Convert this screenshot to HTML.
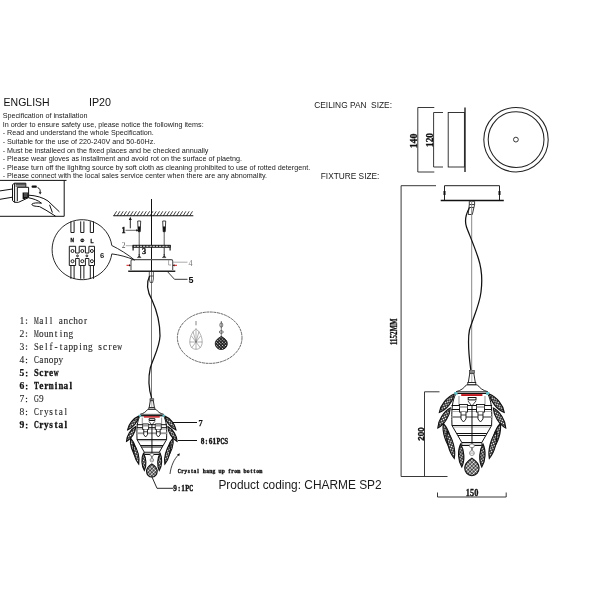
<!DOCTYPE html>
<html><head><meta charset="utf-8"><style>
html,body{margin:0;padding:0;background:#fff;}
svg{display:block;will-change:transform;}
.nss *{vector-effect:non-scaling-stroke;}
</style></head><body>
<svg width="600" height="600" viewBox="0 0 600 600">
<rect width="600" height="600" fill="#fff"/>
<text x="3.6" y="106" font-family='"Liberation Sans", sans-serif' font-size="10.5" fill="#111" font-weight="normal" >ENGLISH</text>
<text x="89" y="106" font-family='"Liberation Sans", sans-serif' font-size="10.7" fill="#111" font-weight="normal" >IP20</text>
<text x="2.7" y="118.1" font-family='"Liberation Sans", sans-serif' font-size="7.2" fill="#1a1a1a" font-weight="normal" >Specification of installation</text>
<text x="2.7" y="126.8" font-family='"Liberation Sans", sans-serif' font-size="7.2" fill="#1a1a1a" font-weight="normal" >In order to ensure safety use, please notice the following items:</text>
<text x="2.7" y="135.4" font-family='"Liberation Sans", sans-serif' font-size="7.2" fill="#1a1a1a" font-weight="normal" >- Read and understand the whole Specification.</text>
<text x="2.7" y="143.8" font-family='"Liberation Sans", sans-serif' font-size="7.2" fill="#1a1a1a" font-weight="normal" >- Suitable for the use of 220-240V and 50-60Hz.</text>
<text x="2.7" y="152.7" font-family='"Liberation Sans", sans-serif' font-size="7.2" fill="#1a1a1a" font-weight="normal" >- Must be installeed on the fixed places and be checked annually</text>
<text x="2.7" y="161.3" font-family='"Liberation Sans", sans-serif' font-size="7.2" fill="#1a1a1a" font-weight="normal" >- Please wear gloves as installment and avoid rot on the surface of plaetng.</text>
<text x="2.7" y="169.7" font-family='"Liberation Sans", sans-serif' font-size="7.2" fill="#1a1a1a" font-weight="normal" >- Please turn off the lighitng source by soft cloth as cleaning prohibited to use of rotted detergent.</text>
<text x="2.7" y="178.4" font-family='"Liberation Sans", sans-serif' font-size="7.2" fill="#1a1a1a" font-weight="normal" >- Please connect with the local sales service center when there are any abnomality.</text>
<text x="314.25" y="107.5" font-family='"Liberation Sans", sans-serif' font-size="8.35" fill="#1a1a1a" font-weight="normal" >CEILING PAN&#160;&#160;SIZE:</text>
<text x="320.8" y="178.8" font-family='"Liberation Sans", sans-serif' font-size="8.3" fill="#1a1a1a" font-weight="normal" >FIXTURE SIZE:</text>
<text x="218.4" y="488.6" font-family='"Liberation Sans", sans-serif' font-size="11.9" fill="#1a1a1a" font-weight="normal" >Product coding: CHARME SP2</text>
<g fill="none" stroke="#111" stroke-width="1"><path d="M0 180.4 H66.5 M64.2 180.4 V216.3 H0"/><path d="M0 190.9 L12.5 189 M0 199.3 L12.5 197.2"/><path d="M12.5 184.6 L14.6 183.2 H25.8 V187.3 H28.6 V197.6 L18.5 202.3 H14.6 L12.5 200.6 Z" fill="#fff"/><path d="M14.6 183.2 V202.3 M17.3 187.3 H25.8 M17.3 187.3 V201"/><path d="M28.6 195.2 C36 195.5 43 197.5 48 201 L59.4 211.8"/><path d="M28.6 197.8 C33 198.6 38 200.2 41.5 203.2 C37 202.6 33.2 202.8 31.9 204.2 C31.6 205.8 35 206.3 39.5 206.6 L46 210.2 L55.6 216.2"/><path d="M49.6 204.8 L52.4 212.6"/><path d="M37.6 187.6 C39.6 188.2 40.6 190 40.1 192.6"/></g>
<g fill="#111"><rect x="31.6" y="185.4" width="5.2" height="2.3" rx="0.8"/><path d="M38.7 192.2 L41.6 192.2 L40.2 194.4 Z"/><rect x="15.6" y="183.6" width="9.8" height="1.1"/><rect x="15.6" y="185.5" width="9.8" height="1"/><path d="M22.6 192.4 H28.6 V197.4 L24.5 199 H22.6 Z"/></g>
<path d="M24 194 H27.6 M24 196 H27.4" stroke="#fff" stroke-width="0.5"/>
<g stroke="#111" fill="none"><path d="M113.3 215.8 H193.3" stroke-width="1.1"/><path d="M113.8 215.8 L116.6 211.3 M117.1 215.8 L119.9 211.3 M120.4 215.8 L123.2 211.3 M123.7 215.8 L126.5 211.3 M127.0 215.8 L129.8 211.3 M130.3 215.8 L133.1 211.3 M133.6 215.8 L136.4 211.3 M136.9 215.8 L139.7 211.3 M140.2 215.8 L143.0 211.3 M143.5 215.8 L146.3 211.3 M146.8 215.8 L149.6 211.3 M150.1 215.8 L152.9 211.3 M153.4 215.8 L156.2 211.3 M156.7 215.8 L159.5 211.3 M160.0 215.8 L162.8 211.3 M163.3 215.8 L166.1 211.3 M166.6 215.8 L169.4 211.3 M169.9 215.8 L172.7 211.3 M173.2 215.8 L176.0 211.3 M176.5 215.8 L179.3 211.3 M179.8 215.8 L182.6 211.3 M183.1 215.8 L185.9 211.3 M186.4 215.8 L189.2 211.3 M189.7 215.8 L192.5 211.3 " stroke-width="0.8"/></g>
<path d="M151.5 199 V272" stroke="#111" stroke-width="1"/><path d="M151.5 272 V399" stroke="#777" stroke-width="1"/>
<path d="M130.3 228.3 V219" stroke="#111" stroke-width="0.9"/><path d="M128.8 220 L130.3 216.8 L131.8 220 Z" fill="#111"/>
<path d="M137.7 221 H140.7 L140.2 231.7 H138.2 Z" fill="#fff" stroke="#111" stroke-width="0.8"/>
<path d="M137.89999999999998 226.5 H140.5 L140.2 231.7 H138.2 Z" fill="#111"/>
<path d="M139.2 231.7 V245" stroke="#333" stroke-width="0.8"/>
<path d="M162.7 221 H165.7 L165.2 231.7 H163.2 Z" fill="#fff" stroke="#111" stroke-width="0.8"/>
<path d="M162.89999999999998 226.5 H165.5 L165.2 231.7 H163.2 Z" fill="#111"/>
<path d="M164.2 231.7 V245" stroke="#333" stroke-width="0.8"/>
<text x="121.6" y="233.2" font-family='"Liberation Serif", serif' font-size="8.2" fill="#111" font-weight="bold" stroke="#111" stroke-width="0.35">1</text>
<path d="M125.5 230.3 H137.5" stroke="#222" stroke-width="0.7"/><path d="M136.2 229.2 L138.6 230.3 L136.2 231.4Z" fill="#111"/>
<rect x="132.6" y="244.8" width="38" height="3" fill="#1a1a1a"/>
<path d="M133.5 246.3 H170" stroke="#fff" stroke-width="0.9" stroke-dasharray="2.2 1"/>
<path d="M133.1 245 V250.4 M170.1 245 V250.4" stroke="#1a1a1a" stroke-width="1.2" fill="none"/>
<text x="121.8" y="247.8" font-family='"Liberation Serif", serif' font-size="7.5" fill="#555" font-weight="normal" >2</text>
<path d="M125.8 245.7 H132" stroke="#888" stroke-width="0.7"/>
<path d="M139.2 247.5 V255" stroke="#222" stroke-width="0.9"/><path d="M137.39999999999998 257.6 Q139.2 256.5 139.2 254 Q139.2 256.5 141.0 257.6 Z" fill="#222" stroke="#222" stroke-width="0.5"/>
<path d="M164.2 247.5 V255" stroke="#222" stroke-width="0.9"/><path d="M162.39999999999998 257.6 Q164.2 256.5 164.2 254 Q164.2 256.5 166.0 257.6 Z" fill="#222" stroke="#222" stroke-width="0.5"/>
<text x="141.9" y="253.9" font-family='"Liberation Serif", serif' font-size="8.4" fill="#111" font-weight="bold" stroke="#111" stroke-width="0.3">3</text>
<g stroke="#222" fill="none"><path d="M131 270.1 V261 Q131 259.6 132.5 259.6 H171.2 Q172.7 259.6 172.7 261 V270.1" stroke-width="1.1" stroke="#555"/><path d="M128.2 271.3 H175.3" stroke-width="1.6" stroke="#222"/></g>
<path d="M126.5 265.3 H130" stroke="#c00" stroke-width="0.9"/><path d="M129 264.2 L131 265.3 L129 266.4Z" fill="#311"/>
<path d="M177 265.3 H173.5" stroke="#c00" stroke-width="0.9"/><path d="M174.5 264.2 L172.5 265.3 L174.5 266.4Z" fill="#311"/>
<path d="M168.6 259.8 V265 M168.6 265 H171  M172.7 262.2 H187.5" stroke="#888" stroke-width="0.7" fill="none"/>
<text x="188.5" y="266" font-family='"Liberation Serif", serif' font-size="8" fill="#777" font-weight="normal" >4</text>
<path d="M167.2 271.3 L174.5 279.3 H187.5" stroke="#222" stroke-width="0.9" fill="none"/>
<text x="188.6" y="282.6" font-family='"Liberation Sans", sans-serif' font-size="9" fill="#111" font-weight="bold" >5</text>
<g stroke="#333" fill="none" stroke-width="0.8"><path d="M149.3 272 V279 M153.4 272 V279 M149.3 279 L150.2 282.5 H152.6 L153.4 279"/><path d="M149.4 276 H153.4"/></g>
<path d="M149.6 276 C146 283 147.5 292 152 300 C157 311 160 322 160 336 C159.5 348 153 358 150.3 368 C148.3 377 148.8 389 151.6 398" stroke="#111" stroke-width="1.25" fill="none"/>
<g stroke="#111" fill="none" stroke-width="0.9"><path d="M111.8 245.5 A30 30 0 1 0 111.8 253.9 C119 254.8 127 256.8 134.5 260 C128 254.5 119 249 111.8 245.5 Z" fill="#fff"/></g>
<g stroke="#111" fill="#fff" stroke-width="0.95"><path d="M70.9 221.4 V232.5 H74.1 V221.4" fill="none"/><path d="M70.9 265.5 V278.8 M74.1 265.5 V278.8" fill="none"/><path d="M80.7 221.4 V232.5 H83.89999999999999 V221.4" fill="none"/><path d="M80.7 265.5 V278.8 M83.89999999999999 265.5 V278.8" fill="none"/><path d="M90.30000000000001 221.4 V232.5 H93.5 V221.4" fill="none"/><path d="M90.30000000000001 265.5 V278.8 M93.5 265.5 V278.8" fill="none"/><path d="M69.3 246.3 H75.6 V253 H79.2 V246.3 H85.4 V253 H88.9 V246.3 H94.5 V265.5 H88.9 V258.5 H85.4 V265.5 H79.2 V258.5 H75.6 V265.5 H69.3 Z"/><circle cx="72.5" cy="251" r="1.5"/><circle cx="72.5" cy="261.2" r="1.5"/><circle cx="82.3" cy="251" r="1.5"/><circle cx="82.3" cy="261.2" r="1.5"/><circle cx="91.9" cy="251" r="1.5"/><circle cx="91.9" cy="261.2" r="1.5"/><circle cx="77.5" cy="255.9" r="0.9"/><circle cx="86.9" cy="255.9" r="0.9"/></g>
<text x="70.4" y="242.4" font-family='"Liberation Sans", sans-serif' font-size="4.8" fill="#111" font-weight="bold" stroke="#111" stroke-width="0.3">N</text>
<circle cx="82.3" cy="240.3" r="1.9" fill="#111"/><path d="M80.6 240.3 H84" stroke="#fff" stroke-width="0.5"/>
<text x="90.5" y="242.5" font-family='"Liberation Sans", sans-serif' font-size="5" fill="#111" font-weight="bold" stroke="#111" stroke-width="0.3">L</text>
<text x="99.9" y="257.9" font-family='"Liberation Sans", sans-serif' font-size="7.6" fill="#222" font-weight="bold" >6</text>
<text transform="translate(19.45 324) scale(0.990 1)" font-family="Liberation Serif" font-size="9.7" fill="#262626" font-weight="normal" stroke="#262626" stroke-width="0.10">1</text>
<rect x="25.9" y="319.4" width="1.2" height="1.2" fill="#262626"/><rect x="25.9" y="322.6" width="1.2" height="1.2" fill="#262626"/>
<g transform="translate(34.0 0) scale(0.96 1) translate(-34.0 0)"><text x="39.50 45.41 50.52 59.92 64.75 70.13 74.96 80.06 85.98" y="324" font-family="Liberation Serif" font-size="9.7" fill="#262626" font-weight="normal" stroke="#262626" stroke-width="0.10">allanchor</text></g>
<text transform="translate(34.05 324) scale(0.557 1)" font-family="Liberation Serif" font-size="9.7" fill="#262626" font-weight="normal" stroke="#262626" stroke-width="0.18">M</text>
<text transform="translate(19.45 337) scale(0.990 1)" font-family="Liberation Serif" font-size="9.7" fill="#262626" font-weight="normal" stroke="#262626" stroke-width="0.10">2</text>
<rect x="25.9" y="332.4" width="1.2" height="1.2" fill="#262626"/><rect x="25.9" y="335.6" width="1.2" height="1.2" fill="#262626"/>
<g transform="translate(34.0 0) scale(0.96 1) translate(-34.0 0)"><text x="39.23 44.34 49.44 55.62 60.73 64.75 69.86" y="337" font-family="Liberation Serif" font-size="9.7" fill="#262626" font-weight="normal" stroke="#262626" stroke-width="0.10">ounting</text></g>
<text transform="translate(34.05 337) scale(0.557 1)" font-family="Liberation Serif" font-size="9.7" fill="#262626" font-weight="normal" stroke="#262626" stroke-width="0.18">M</text>
<text transform="translate(19.45 350) scale(0.990 1)" font-family="Liberation Serif" font-size="9.7" fill="#262626" font-weight="normal" stroke="#262626" stroke-width="0.10">3</text>
<rect x="25.9" y="345.4" width="1.2" height="1.2" fill="#262626"/><rect x="25.9" y="348.6" width="1.2" height="1.2" fill="#262626"/>
<g transform="translate(34.0 0) scale(0.96 1) translate(-34.0 0)"><text x="39.50 45.41 50.25 55.35 60.73 65.02 69.86 74.96 81.14 85.17 90.27 101.02 105.86 111.50 116.07" y="350" font-family="Liberation Serif" font-size="9.7" fill="#262626" font-weight="normal" stroke="#262626" stroke-width="0.10">elf-tappingscre</text></g>
<text transform="translate(34.05 350) scale(0.890 1)" font-family="Liberation Serif" font-size="9.7" fill="#262626" font-weight="normal" stroke="#262626" stroke-width="0.11">S</text>
<text transform="translate(117.35 350) scale(0.686 1)" font-family="Liberation Serif" font-size="9.7" fill="#262626" font-weight="normal" stroke="#262626" stroke-width="0.15">w</text>
<text transform="translate(19.45 363.4) scale(0.990 1)" font-family="Liberation Serif" font-size="9.7" fill="#262626" font-weight="normal" stroke="#262626" stroke-width="0.10">4</text>
<rect x="25.9" y="358.79999999999995" width="1.2" height="1.2" fill="#262626"/><rect x="25.9" y="362.0" width="1.2" height="1.2" fill="#262626"/>
<g transform="translate(34.0 0) scale(0.96 1) translate(-34.0 0)"><text x="39.50 44.34 49.44 54.54 59.65" y="363.4" font-family="Liberation Serif" font-size="9.7" fill="#262626" font-weight="normal" stroke="#262626" stroke-width="0.10">anopy</text></g>
<text transform="translate(34.05 363.4) scale(0.742 1)" font-family="Liberation Serif" font-size="9.7" fill="#262626" font-weight="normal" stroke="#262626" stroke-width="0.13">C</text>
<text transform="translate(19.45 376.4) scale(0.990 1)" font-family="Liberation Serif" font-size="9.7" fill="#111" font-weight="bold" stroke="#111" stroke-width="0.25">5</text>
<rect x="25.9" y="371.79999999999995" width="1.5" height="1.5" fill="#111"/><rect x="25.9" y="375.0" width="1.5" height="1.5" fill="#111"/>
<g transform="translate(34.0 0) scale(0.96 1) translate(-34.0 0)"><text x="39.50 44.61 49.71" y="376.4" font-family="Liberation Serif" font-size="9.7" fill="#111" font-weight="bold" stroke="#111" stroke-width="0.26">cre</text></g>
<text transform="translate(34.05 376.4) scale(0.890 1)" font-family="Liberation Serif" font-size="9.7" fill="#111" font-weight="bold" stroke="#111" stroke-width="0.28">S</text>
<text transform="translate(53.65 376.4) scale(0.686 1)" font-family="Liberation Serif" font-size="9.7" fill="#111" font-weight="bold" stroke="#111" stroke-width="0.36">w</text>
<text transform="translate(19.45 389.4) scale(0.990 1)" font-family="Liberation Serif" font-size="9.7" fill="#111" font-weight="bold" stroke="#111" stroke-width="0.25">6</text>
<rect x="25.9" y="384.79999999999995" width="1.5" height="1.5" fill="#111"/><rect x="25.9" y="388.0" width="1.5" height="1.5" fill="#111"/>
<g transform="translate(34.0 0) scale(0.96 1) translate(-34.0 0)"><text x="39.50 44.61 55.62 64.75 70.93" y="389.4" font-family="Liberation Serif" font-size="9.7" fill="#111" font-weight="bold" stroke="#111" stroke-width="0.26">erial</text></g>
<text transform="translate(34.05 389.4) scale(0.742 1)" font-family="Liberation Serif" font-size="9.7" fill="#111" font-weight="bold" stroke="#111" stroke-width="0.34">T</text>
<text transform="translate(48.75 389.4) scale(0.594 1)" font-family="Liberation Serif" font-size="9.7" fill="#111" font-weight="bold" stroke="#111" stroke-width="0.42">m</text>
<text transform="translate(58.55 389.4) scale(0.890 1)" font-family="Liberation Serif" font-size="9.7" fill="#111" font-weight="bold" stroke="#111" stroke-width="0.28">n</text>
<text transform="translate(19.45 402.4) scale(0.990 1)" font-family="Liberation Serif" font-size="9.7" fill="#262626" font-weight="normal" stroke="#262626" stroke-width="0.10">7</text>
<rect x="25.9" y="397.79999999999995" width="1.2" height="1.2" fill="#262626"/><rect x="25.9" y="401.0" width="1.2" height="1.2" fill="#262626"/>
<g transform="translate(34.0 0) scale(0.96 1) translate(-34.0 0)"><text x="39.23" y="402.4" font-family="Liberation Serif" font-size="9.7" fill="#262626" font-weight="normal" stroke="#262626" stroke-width="0.10">9</text></g>
<text transform="translate(34.05 402.4) scale(0.686 1)" font-family="Liberation Serif" font-size="9.7" fill="#262626" font-weight="normal" stroke="#262626" stroke-width="0.15">G</text>
<text transform="translate(19.45 415.4) scale(0.990 1)" font-family="Liberation Serif" font-size="9.7" fill="#262626" font-weight="normal" stroke="#262626" stroke-width="0.10">8</text>
<rect x="25.9" y="410.79999999999995" width="1.2" height="1.2" fill="#262626"/><rect x="25.9" y="414.0" width="1.2" height="1.2" fill="#262626"/>
<g transform="translate(34.0 0) scale(0.96 1) translate(-34.0 0)"><text x="40.04 44.34 49.98 55.62 59.92 65.83" y="415.4" font-family="Liberation Serif" font-size="9.7" fill="#262626" font-weight="normal" stroke="#262626" stroke-width="0.10">rystal</text></g>
<text transform="translate(34.05 415.4) scale(0.742 1)" font-family="Liberation Serif" font-size="9.7" fill="#262626" font-weight="normal" stroke="#262626" stroke-width="0.13">C</text>
<text transform="translate(19.45 428.4) scale(0.990 1)" font-family="Liberation Serif" font-size="9.7" fill="#111" font-weight="bold" stroke="#111" stroke-width="0.25">9</text>
<rect x="25.9" y="423.79999999999995" width="1.5" height="1.5" fill="#111"/><rect x="25.9" y="427.0" width="1.5" height="1.5" fill="#111"/>
<g transform="translate(34.0 0) scale(0.96 1) translate(-34.0 0)"><text x="39.50 44.34 49.98 55.35 59.65 65.83" y="428.4" font-family="Liberation Serif" font-size="9.7" fill="#111" font-weight="bold" stroke="#111" stroke-width="0.26">rystal</text></g>
<text transform="translate(34.05 428.4) scale(0.686 1)" font-family="Liberation Serif" font-size="9.7" fill="#111" font-weight="bold" stroke="#111" stroke-width="0.36">C</text>
<ellipse cx="209.7" cy="337.7" rx="32.3" ry="25.7" fill="none" stroke="#444" stroke-width="0.8" stroke-dasharray="3 0.6"/>
<g stroke="#666" fill="none" stroke-width="0.5"><path d="M196 328.7 C192 332 189.8 337 189.8 342 C189.8 346.5 192.5 349.3 196 349.3 C199.5 349.3 202.2 346.5 202.2 342 C202.2 337 200 332 196 328.7 Z"/><path d="M196 328.7 V349.3 M189.8 342 H202.2 M191.5 336 L200.5 348 M200.5 336 L191.5 348 M193 331.5 L196 342 L199 331.5"/><path d="M196 321 V325.3" stroke-width="0.8"/></g>
<g stroke="#222" fill="none" stroke-width="0.6"><path d="M221.3 321 V337"/><ellipse cx="221.3" cy="325" rx="1.5" ry="2.2"/><ellipse cx="221.3" cy="332" rx="2" ry="1.3"/></g>
<path d="M221.3 336.5 C224 338 227.3 340 227.3 343.6 C227.3 347 224.6 349.5 221.3 349.5 C218 349.5 215.3 347 215.3 343.6 C215.3 340 218.6 338 221.3 336.5 Z" fill="url(#xb3)" stroke="#111" stroke-width="0.9"/>
<defs><pattern id="xh" width="2.3" height="2.3" patternUnits="userSpaceOnUse" patternTransform="rotate(35)"><rect width="2.3" height="2.3" fill="#1c1c1c"/><circle cx="1.15" cy="1.15" r="0.8" fill="#fff"/></pattern><pattern id="xb" width="2.6" height="2.6" patternUnits="userSpaceOnUse" patternTransform="rotate(45)"><rect width="2.6" height="2.6" fill="#1c1c1c"/><circle cx="1.3" cy="1.3" r="1.0" fill="#fff"/></pattern><pattern id="xh2" width="3.1" height="3.1" patternUnits="userSpaceOnUse" patternTransform="rotate(35)"><rect width="3.1" height="3.1" fill="#1c1c1c"/><circle cx="1.55" cy="1.55" r="1.15" fill="#fff"/></pattern><pattern id="xb2" width="3.4" height="3.4" patternUnits="userSpaceOnUse" patternTransform="rotate(45)"><rect width="3.4" height="3.4" fill="#1c1c1c"/><circle cx="1.7" cy="1.7" r="1.3" fill="#fff"/></pattern><pattern id="xb3" width="2.2" height="2.2" patternUnits="userSpaceOnUse" patternTransform="rotate(45)"><rect width="2.2" height="2.2" fill="#222"/><circle cx="1.1" cy="1.1" r="0.55" fill="#fff"/></pattern></defs>
<g transform="translate(471.8 392.5)"><g><path transform="translate(-25.00 10.75) rotate(129.0)" d="M-11.91 0 C-5.36 -3.81 5.36 -3.81 11.91 0 C5.36 3.81 -5.36 3.81 -11.91 0 Z" fill="url(#xh)" stroke="#111" stroke-width="1.1"/><path transform="translate(-27.75 25.50) rotate(122.0)" d="M-11.79 0 C-5.31 -3.81 5.31 -3.81 11.79 0 C5.31 3.81 -5.31 3.81 -11.79 0 Z" fill="url(#xh)" stroke="#111" stroke-width="1.1"/><path transform="translate(-24.50 44.00) rotate(72.9)" d="M-13.60 0 C-6.12 -3.67 6.12 -3.67 13.60 0 C6.12 3.67 -6.12 3.67 -13.60 0 Z" fill="url(#xh)" stroke="#111" stroke-width="1.1"/><path transform="translate(-21.00 52.50) rotate(75.5)" d="M-13.95 0 C-6.28 -3.67 6.28 -3.67 13.95 0 C6.28 3.67 -6.28 3.67 -13.95 0 Z" fill="url(#xh)" stroke="#111" stroke-width="1.1"/><path transform="translate(-10.60 63.00) rotate(87.0)" d="M-11.52 0 C-5.18 -3.54 5.18 -3.54 11.52 0 C5.18 3.54 -5.18 3.54 -11.52 0 Z" fill="url(#xh)" stroke="#111" stroke-width="1.1"/></g><g transform="scale(-1 1)"><path transform="translate(-25.00 10.75) rotate(129.0)" d="M-11.91 0 C-5.36 -3.81 5.36 -3.81 11.91 0 C5.36 3.81 -5.36 3.81 -11.91 0 Z" fill="url(#xh)" stroke="#111" stroke-width="1.1"/><path transform="translate(-27.75 25.50) rotate(122.0)" d="M-11.79 0 C-5.31 -3.81 5.31 -3.81 11.79 0 C5.31 3.81 -5.31 3.81 -11.79 0 Z" fill="url(#xh)" stroke="#111" stroke-width="1.1"/><path transform="translate(-24.50 44.00) rotate(72.9)" d="M-13.60 0 C-6.12 -3.67 6.12 -3.67 13.60 0 C6.12 3.67 -6.12 3.67 -13.60 0 Z" fill="url(#xh)" stroke="#111" stroke-width="1.1"/><path transform="translate(-21.00 52.50) rotate(75.5)" d="M-13.95 0 C-6.28 -3.67 6.28 -3.67 13.95 0 C6.28 3.67 -6.28 3.67 -13.95 0 Z" fill="url(#xh)" stroke="#111" stroke-width="1.1"/><path transform="translate(-10.60 63.00) rotate(87.0)" d="M-11.52 0 C-5.18 -3.54 5.18 -3.54 11.52 0 C5.18 3.54 -5.18 3.54 -11.52 0 Z" fill="url(#xh)" stroke="#111" stroke-width="1.1"/></g><path d="M-15.8 1 C-19.5 8 -20.5 16 -19.8 33 L-10 50 V53 H10 V50 L19.8 33 C20.5 16 19.5 8 15.8 1 Z" fill="#fff" stroke="#111" stroke-width="1"/><path d="M-20.3 13 H20.3" stroke="#111" stroke-width="1"/><path d="M-20.3 17 H20.3" stroke="#111" stroke-width="1"/><path d="M-20.3 19 H20.3" stroke="#999" stroke-width="0.8"/><path d="M-20.5 24.5 H20.5" stroke="#999" stroke-width="1.8"/><path d="M-19.8 33 H19.8" stroke="#111" stroke-width="1"/><path d="M-18.5 34.5 H18.5" stroke="#999" stroke-width="0.8"/><path d="M-15 41 H15" stroke="#111" stroke-width="1"/><path d="M-13.8 43 H13.8" stroke="#111" stroke-width="1"/><path d="M-10 50 H10" stroke="#111" stroke-width="1"/><path d="M-10 51.5 H10" stroke="#999" stroke-width="0.8"/><path d="M-2 -19.3 H2 L3.5 -10 H-3.5 Z" fill="#fff" stroke="#111" stroke-width="0.9"/><path d="M0 -19 V-10" stroke="#999" stroke-width="0.8"/><rect x="-2.5" y="-22" width="5" height="2.7" fill="#888" stroke="#222" stroke-width="0.6"/><rect x="-4" y="-10" width="8" height="2.4" fill="#fff" stroke="#111" stroke-width="0.8"/><path d="M-5.4 -7.6 H5.6 C8 -4.5 11 -2 15.9 -0.8 H-15.7 C-10.8 -2 -7.8 -4.5 -5.4 -7.6 Z" fill="#fff" stroke="#111" stroke-width="0.9"/><path d="M-15.8 -0.3 H15.9" stroke="#999" stroke-width="0.8"/><path d="M-15.8 0.9 H15.9" stroke="#111" stroke-width="1"/><path d="M-17.8 -0.5 L-14.6 -0.5 L-14 2.3 L-16.8 2.3 Z" fill="#5fc0c8"/><path d="M17.8 -0.5 L14.6 -0.5 L14 2.3 L16.8 2.3 Z" fill="#5fc0c8"/><rect x="-10.6" y="1.6" width="21.2" height="1.9" fill="#c0161c"/><rect x="-3.6" y="5" width="7.8" height="2.4" fill="#fff" stroke="#111" stroke-width="1"/><path d="M-12.8 3.5 V12.5 M13.2 3.5 V12.5" stroke="#888" stroke-width="0.9"/><path d="M-3.8 8.5 L0 13.5 L4.2 8.5" stroke="#111" stroke-width="0.8" fill="none"/><path d="M0.2 13 V58" stroke="#111" stroke-width="1"/><rect x="-12.3" y="12" width="8" height="7.5" fill="#fff" stroke="#111" stroke-width="0.9"/><path d="M-12.3 14.5 H-4.300000000000001" stroke="#888" stroke-width="1.2"/><path d="M-10.8 19.5 V26.5 L-8.3 29.5 L-5.800000000000001 26.5 V19.5" fill="#fff" stroke="#111" stroke-width="0.9"/><path d="M-10.8 22.5 H-5.800000000000001" stroke="#111" stroke-width="0.8"/><rect x="4.699999999999999" y="12" width="8" height="7.5" fill="#fff" stroke="#111" stroke-width="0.9"/><path d="M4.699999999999999 14.5 H12.7" stroke="#888" stroke-width="1.2"/><path d="M6.199999999999999 19.5 V26.5 L8.7 29.5 L11.2 26.5 V19.5" fill="#fff" stroke="#111" stroke-width="0.9"/><path d="M6.199999999999999 22.5 H11.2" stroke="#111" stroke-width="0.8"/><rect x="-2.2" y="51.5" width="4.6" height="3.5" rx="1.2" fill="#fff" stroke="#666" stroke-width="0.7"/><circle cx="0.1" cy="60.6" r="2.4" fill="#fff" stroke="#666" stroke-width="0.7"/><path d="M-2.2 60.6 H2.4" stroke="#888" stroke-width="0.7"/><path d="M0.1 65.6 C3 67.5 7.3 70.5 7.3 75.3 C7.3 79.8 4.2 83.2 0.1 83.2 C-4 83.2 -7.1 79.8 -7.1 75.3 C-7.1 70.5 -2.8 67.5 0.1 65.6 Z" fill="url(#xb)" stroke="#111" stroke-width="1.1"/></g>
<g class="nss" transform="translate(151.8 415) scale(0.745)"><g><path transform="translate(-25.00 10.75) rotate(129.0)" d="M-11.91 0 C-5.36 -3.81 5.36 -3.81 11.91 0 C5.36 3.81 -5.36 3.81 -11.91 0 Z" fill="url(#xh2)" stroke="#111" stroke-width="1.1"/><path transform="translate(-27.75 25.50) rotate(122.0)" d="M-11.79 0 C-5.31 -3.81 5.31 -3.81 11.79 0 C5.31 3.81 -5.31 3.81 -11.79 0 Z" fill="url(#xh2)" stroke="#111" stroke-width="1.1"/><path transform="translate(-24.50 44.00) rotate(72.9)" d="M-13.60 0 C-6.12 -3.67 6.12 -3.67 13.60 0 C6.12 3.67 -6.12 3.67 -13.60 0 Z" fill="url(#xh2)" stroke="#111" stroke-width="1.1"/><path transform="translate(-21.00 52.50) rotate(75.5)" d="M-13.95 0 C-6.28 -3.67 6.28 -3.67 13.95 0 C6.28 3.67 -6.28 3.67 -13.95 0 Z" fill="url(#xh2)" stroke="#111" stroke-width="1.1"/><path transform="translate(-10.60 63.00) rotate(87.0)" d="M-11.52 0 C-5.18 -3.54 5.18 -3.54 11.52 0 C5.18 3.54 -5.18 3.54 -11.52 0 Z" fill="url(#xh2)" stroke="#111" stroke-width="1.1"/></g><g transform="scale(-1 1)"><path transform="translate(-25.00 10.75) rotate(129.0)" d="M-11.91 0 C-5.36 -3.81 5.36 -3.81 11.91 0 C5.36 3.81 -5.36 3.81 -11.91 0 Z" fill="url(#xh2)" stroke="#111" stroke-width="1.1"/><path transform="translate(-27.75 25.50) rotate(122.0)" d="M-11.79 0 C-5.31 -3.81 5.31 -3.81 11.79 0 C5.31 3.81 -5.31 3.81 -11.79 0 Z" fill="url(#xh2)" stroke="#111" stroke-width="1.1"/><path transform="translate(-24.50 44.00) rotate(72.9)" d="M-13.60 0 C-6.12 -3.67 6.12 -3.67 13.60 0 C6.12 3.67 -6.12 3.67 -13.60 0 Z" fill="url(#xh2)" stroke="#111" stroke-width="1.1"/><path transform="translate(-21.00 52.50) rotate(75.5)" d="M-13.95 0 C-6.28 -3.67 6.28 -3.67 13.95 0 C6.28 3.67 -6.28 3.67 -13.95 0 Z" fill="url(#xh2)" stroke="#111" stroke-width="1.1"/><path transform="translate(-10.60 63.00) rotate(87.0)" d="M-11.52 0 C-5.18 -3.54 5.18 -3.54 11.52 0 C5.18 3.54 -5.18 3.54 -11.52 0 Z" fill="url(#xh2)" stroke="#111" stroke-width="1.1"/></g><path d="M-15.8 1 C-19.5 8 -20.5 16 -19.8 33 L-10 50 V53 H10 V50 L19.8 33 C20.5 16 19.5 8 15.8 1 Z" fill="#fff" stroke="#111" stroke-width="1"/><path d="M-20.3 13 H20.3" stroke="#111" stroke-width="1"/><path d="M-20.3 17 H20.3" stroke="#111" stroke-width="1"/><path d="M-20.3 19 H20.3" stroke="#999" stroke-width="0.8"/><path d="M-20.5 24.5 H20.5" stroke="#999" stroke-width="1.8"/><path d="M-19.8 33 H19.8" stroke="#111" stroke-width="1"/><path d="M-18.5 34.5 H18.5" stroke="#999" stroke-width="0.8"/><path d="M-15 41 H15" stroke="#111" stroke-width="1"/><path d="M-13.8 43 H13.8" stroke="#111" stroke-width="1"/><path d="M-10 50 H10" stroke="#111" stroke-width="1"/><path d="M-10 51.5 H10" stroke="#999" stroke-width="0.8"/><path d="M-2 -19.3 H2 L3.5 -10 H-3.5 Z" fill="#fff" stroke="#111" stroke-width="0.9"/><path d="M0 -19 V-10" stroke="#999" stroke-width="0.8"/><rect x="-2.5" y="-22" width="5" height="2.7" fill="#888" stroke="#222" stroke-width="0.6"/><rect x="-4" y="-10" width="8" height="2.4" fill="#fff" stroke="#111" stroke-width="0.8"/><path d="M-5.4 -7.6 H5.6 C8 -4.5 11 -2 15.9 -0.8 H-15.7 C-10.8 -2 -7.8 -4.5 -5.4 -7.6 Z" fill="#fff" stroke="#111" stroke-width="0.9"/><path d="M-15.8 -0.3 H15.9" stroke="#999" stroke-width="0.8"/><path d="M-15.8 0.9 H15.9" stroke="#111" stroke-width="1"/><path d="M-17.8 -0.5 L-14.6 -0.5 L-14 2.3 L-16.8 2.3 Z" fill="#5fc0c8"/><path d="M17.8 -0.5 L14.6 -0.5 L14 2.3 L16.8 2.3 Z" fill="#5fc0c8"/><rect x="-10.6" y="1.6" width="21.2" height="1.9" fill="#c0161c"/><rect x="-3.6" y="5" width="7.8" height="2.4" fill="#fff" stroke="#111" stroke-width="1"/><path d="M-12.8 3.5 V12.5 M13.2 3.5 V12.5" stroke="#888" stroke-width="0.9"/><path d="M-3.8 8.5 L0 13.5 L4.2 8.5" stroke="#111" stroke-width="0.8" fill="none"/><path d="M0.2 13 V58" stroke="#111" stroke-width="1"/><rect x="-12.3" y="12" width="8" height="7.5" fill="#fff" stroke="#111" stroke-width="0.9"/><path d="M-12.3 14.5 H-4.300000000000001" stroke="#888" stroke-width="1.2"/><path d="M-10.8 19.5 V26.5 L-8.3 29.5 L-5.800000000000001 26.5 V19.5" fill="#fff" stroke="#111" stroke-width="0.9"/><path d="M-10.8 22.5 H-5.800000000000001" stroke="#111" stroke-width="0.8"/><rect x="4.699999999999999" y="12" width="8" height="7.5" fill="#fff" stroke="#111" stroke-width="0.9"/><path d="M4.699999999999999 14.5 H12.7" stroke="#888" stroke-width="1.2"/><path d="M6.199999999999999 19.5 V26.5 L8.7 29.5 L11.2 26.5 V19.5" fill="#fff" stroke="#111" stroke-width="0.9"/><path d="M6.199999999999999 22.5 H11.2" stroke="#111" stroke-width="0.8"/><rect x="-2.2" y="51.5" width="4.6" height="3.5" rx="1.2" fill="#fff" stroke="#666" stroke-width="0.7"/><circle cx="0.1" cy="60.6" r="2.4" fill="#fff" stroke="#666" stroke-width="0.7"/><path d="M-2.2 60.6 H2.4" stroke="#888" stroke-width="0.7"/><path d="M0.1 65.6 C3 67.5 7.3 70.5 7.3 75.3 C7.3 79.8 4.2 83.2 0.1 83.2 C-4 83.2 -7.1 79.8 -7.1 75.3 C-7.1 70.5 -2.8 67.5 0.1 65.6 Z" fill="url(#xb2)" stroke="#111" stroke-width="1.1"/></g>
<path d="M172.7 422.5 H197" stroke="#111" stroke-width="1"/>
<text x="198.4" y="426.2" font-family='"Liberation Serif", serif' font-size="8.4" fill="#111" font-weight="bold" stroke="#111" stroke-width="0.25">7</text>
<path d="M178 440.5 H197" stroke="#111" stroke-width="1"/>
<g transform="translate(200.6 0) scale(0.85 1) translate(-200.6 0)"><text x="200.77 206.14 210.07 214.71" y="444.2" font-family="Liberation Serif" font-size="8.6" fill="#111" font-weight="bold" stroke="#111" stroke-width="0.35">8:61</text></g>
<text transform="translate(216.44 444.2) scale(0.737 1)" font-family="Liberation Serif" font-size="8.6" fill="#111" font-weight="bold" stroke="#111" stroke-width="0.41">P</text>
<text transform="translate(220.39 444.2) scale(0.623 1)" font-family="Liberation Serif" font-size="8.6" fill="#111" font-weight="bold" stroke="#111" stroke-width="0.48">C</text>
<text transform="translate(224.34 444.2) scale(0.809 1)" font-family="Liberation Serif" font-size="8.6" fill="#111" font-weight="bold" stroke="#111" stroke-width="0.37">S</text>
<path d="M152 477 L157 488.3 H173" stroke="#111" stroke-width="0.9" fill="none"/>
<g transform="translate(173.1 0) scale(0.85 1) translate(-173.1 0)"><text x="173.30 178.73 182.71" y="490.8" font-family="Liberation Serif" font-size="8.6" fill="#111" font-weight="bold" stroke="#111" stroke-width="0.35">9:1</text></g>
<text transform="translate(185.14 490.8) scale(0.746 1)" font-family="Liberation Serif" font-size="8.6" fill="#111" font-weight="bold" stroke="#111" stroke-width="0.40">P</text>
<text transform="translate(189.14 490.8) scale(0.631 1)" font-family="Liberation Serif" font-size="8.6" fill="#111" font-weight="bold" stroke="#111" stroke-width="0.48">C</text>
<g transform="translate(177.8 0) scale(0.9 1) translate(-177.8 0)"><text x="181.64 184.94 188.77 192.42 195.38 199.54 209.29 216.24 234.15 237.29 240.59 254.50 258.50 261.97 264.93" y="472.6" font-family="Liberation Serif" font-size="6.2" fill="#111" font-weight="bold" stroke="#111" stroke-width="0.33">rystalagfrootto</text></g>
<text transform="translate(177.83 472.6) scale(0.685 1)" font-family="Liberation Serif" font-size="6.2" fill="#111" font-weight="bold" stroke="#111" stroke-width="0.44">C</text>
<text transform="translate(202.87 472.6) scale(0.890 1)" font-family="Liberation Serif" font-size="6.2" fill="#111" font-weight="bold" stroke="#111" stroke-width="0.34">h</text>
<text transform="translate(209.13 472.6) scale(0.890 1)" font-family="Liberation Serif" font-size="6.2" fill="#111" font-weight="bold" stroke="#111" stroke-width="0.34">n</text>
<text transform="translate(218.52 472.6) scale(0.890 1)" font-family="Liberation Serif" font-size="6.2" fill="#111" font-weight="bold" stroke="#111" stroke-width="0.34">u</text>
<text transform="translate(221.65 472.6) scale(0.890 1)" font-family="Liberation Serif" font-size="6.2" fill="#111" font-weight="bold" stroke="#111" stroke-width="0.34">p</text>
<text transform="translate(237.30 472.6) scale(0.594 1)" font-family="Liberation Serif" font-size="6.2" fill="#111" font-weight="bold" stroke="#111" stroke-width="0.51">m</text>
<text transform="translate(243.56 472.6) scale(0.890 1)" font-family="Liberation Serif" font-size="6.2" fill="#111" font-weight="bold" stroke="#111" stroke-width="0.34">b</text>
<text transform="translate(259.21 472.6) scale(0.594 1)" font-family="Liberation Serif" font-size="6.2" fill="#111" font-weight="bold" stroke="#111" stroke-width="0.51">m</text>
<path d="M170 474 C171 466 174 459 178.8 454.5" stroke="#111" stroke-width="0.8" fill="none"/><path d="M177 454.4 L179.8 453.2 L179.2 456.2 Z" fill="#111"/>
<g stroke="#222" fill="none" stroke-width="0.9"><path d="M434.3 107.5 H417.8 V172 H434.3"/><path d="M443 112.5 H433.6 V167 H443"/><rect x="448.2" y="112.5" width="16.2" height="54.5"/><path d="M465 107.5 V172" stroke-width="1.4"/><circle cx="516" cy="139.7" r="32.2" stroke-width="1.05"/><circle cx="516.1" cy="139.6" r="27.9" stroke-width="1.05"/><circle cx="515.9" cy="139.6" r="2.4"/></g>
<text transform="translate(417.4 148.3) rotate(-90)" font-family='"Liberation Serif", serif' font-size="10" font-weight="bold" fill="#111" stroke="#111" stroke-width="0.3" textLength="14.6" lengthAdjust="spacingAndGlyphs">140</text>
<text transform="translate(432.8 147) rotate(-90)" font-family='"Liberation Serif", serif' font-size="10" font-weight="bold" fill="#111" stroke="#111" stroke-width="0.3" textLength="14" lengthAdjust="spacingAndGlyphs">120</text>
<g stroke="#222" fill="none" stroke-width="0.9"><path d="M436 185.7 H401.1 V476.5 H447.5"/><path d="M439.5 391.8 H424.5 V476.2"/><path d="M437.5 492.5 V497 H506.2 V492.5"/></g>
<g stroke="#222" fill="#fff" stroke-width="1"><path d="M444.5 200 V185.7 H499.5 V200"/></g>
<path d="M440.7 200.6 H503.8" stroke="#111" stroke-width="1.5"/>
<path d="M444.5 191 V195 M499.5 191 V195" stroke="#111" stroke-width="2"/>
<g stroke="#222" fill="#fff" stroke-width="0.9"><path d="M469.3 201.3 H474.6 V204.5 L472.3 214.5 H468.2 L469.3 204.5 Z"/><path d="M469.3 204.5 H474.6 M469 207.5 L473.9 207.5" fill="none"/></g>
<path d="M471.7 201 V371" stroke="#888" stroke-width="1"/>
<path d="M469.3 208 C466 214 464.5 221 466.5 227 C469 234 474 245 478.3 258.3 C481.5 268 482.3 282 481 292 C479.5 305 473 318 469.5 330 C467 342 469 356 470.8 370" stroke="#111" stroke-width="1.25" fill="none"/>
<text transform="translate(397.1 345) rotate(-90)" font-family='"Liberation Serif", serif' font-size="9.5" font-weight="bold" fill="#111" stroke="#111" stroke-width="0.3" textLength="26.7" lengthAdjust="spacingAndGlyphs">1152MM</text>
<text transform="translate(423.9 440.8) rotate(-90)" font-family='"Liberation Sans", sans-serif' font-size="9.6" font-weight="bold" fill="#111" stroke="#111" stroke-width="0.3" textLength="13.4" lengthAdjust="spacingAndGlyphs">200</text>
<text x="465.8" y="496.3" font-family='"Liberation Serif", serif' font-size="11" fill="#111" font-weight="bold" stroke="#111" stroke-width="0.35" textLength="12.5" lengthAdjust="spacingAndGlyphs">150</text>
</svg>
</body></html>
